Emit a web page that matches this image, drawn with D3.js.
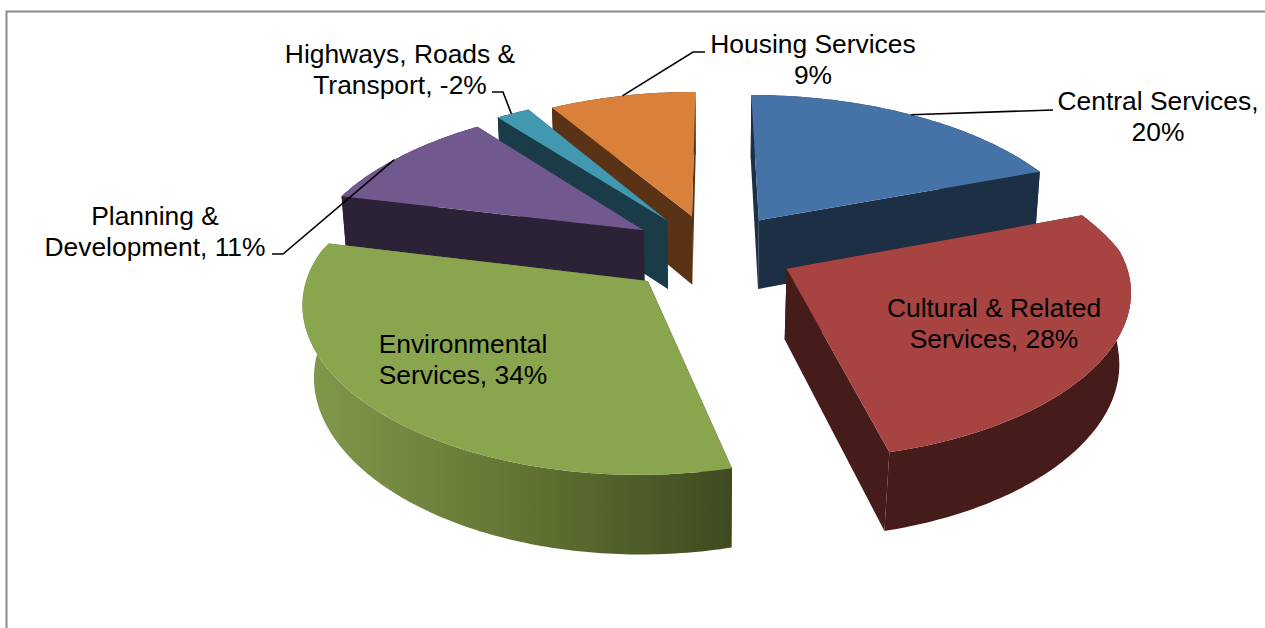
<!DOCTYPE html>
<html><head><meta charset="utf-8">
<script src="https://cdn.jsdelivr.net/npm/d3@7"></script>
<style>html,body{margin:0;padding:0;background:#fff}svg{display:block}</style>
</head><body><svg id="c" width="1265" height="628"></svg>
<script>
const categories = ["Central Services","Cultural & Related Services","Environmental Services","Planning & Development","Highways, Roads & Transport","Housing Services"];
const values = [20,28,34,11,-2,9];
const labelLines = [
  ["Central Services,","20%"],
  ["Cultural & Related","Services, 28%"],
  ["Environmental","Services, 34%"],
  ["Planning &","Development, 11%"],
  ["Highways, Roads &","Transport, -2%"],
  ["Housing Services","9%"]
];
const topColors = ["#4572a7","#a74442","#89a54e","#71588f","#4198af","#d9803b"];
const sideColors = ["#1c2f45","#451c1a","url(#envSide)","#2c2238","#1a3c49","#5a3316"];

// layout of the projected pie
const W=1265,H=628;
const P={x0:713,y0:251,B:965,D:2112,depth:70,pxBack:1.25,pxFront:0.75,pz:0.62,bottomBack:0.985,bottomFront:0.972};
const explodeBy=[84,82,90,85,84,82];
const radiusBy=[338,336,334,338,343,338];
// label anchor, text alignment, leader (fraction along the slice arc, then elbow points)
const labelLayout=[
 {x:1158,y:110,a:"middle",lead:{f:0.5,pts:[[1053,110],[1053,110]]}},
 {x:994,y:317,a:"middle"},
 {x:463,y:353,a:"middle"},
 {x:155,y:225,a:"middle",lead:{f:0.45,pts:[[283,254],[272,254]]}},
 {x:400,y:63,a:"middle",lead:{f:0.45,pts:[[503,92],[492,92]]}},
 {x:813,y:53,a:"middle",lead:{f:0.5,pts:[[693,52],[705,52]]}}
];

const svg=d3.select("#c");
const defs=svg.append("defs");
const g=defs.append("linearGradient").attr("id","envSide").attr("gradientUnits","userSpaceOnUse")
 .attr("x1",312).attr("x2",731).attr("y1",0).attr("y2",0);
g.append("stop").attr("offset",0).attr("stop-color","#80984a");
g.append("stop").attr("offset",0.5).attr("stop-color","#627433");
g.append("stop").attr("offset",1).attr("stop-color","#3f4a1f");

svg.append("path").attr("d",d3.line()([[6.5,628],[6.5,11.5],[1265,11.5]]))
 .attr("fill","none").attr("stroke","#8c8c8c").attr("stroke-width",2);

const pie=d3.pie().value(d=>Math.abs(d)).sort(null).startAngle(0).endAngle(2*Math.PI);
const arcs=pie(values);
const bottomScale=d3.scaleLinear().domain([-100,60]).range([P.bottomBack,P.bottomFront]).clamp(true);

function proj(X,Y,z){
  const s=P.D/(P.D-Y), sx=Math.pow(s,Y<0?P.pxBack:P.pxFront);
  const bx=z?bottomScale(Y):1;
  return [P.x0+X*sx*bx, P.y0+P.B*Y/(P.D-Y)+z*P.depth*Math.pow(s,P.pz)];
}
function center(a){const m=(a.startAngle+a.endAngle)/2,e=explodeBy[a.index];return [e*Math.sin(m),-e*Math.cos(m)];}
function rimPt(a,t,z){const c=center(a),R=radiusBy[a.index];return proj(c[0]+R*Math.sin(t),c[1]-R*Math.cos(t),z);}
function rim(a,z){const n=Math.max(6,Math.ceil((a.endAngle-a.startAngle)/0.015));
  return d3.range(n+1).map(i=>rimPt(a,a.startAngle+(a.endAngle-a.startAngle)*i/n,z));}
const line=d3.line();

const order=d3.range(arcs.length).sort((i,j)=>center(arcs[i])[1]-center(arcs[j])[1]);
const layer=svg.append("g");
order.forEach(i=>{
  const a=arcs[i],c=center(a);
  const t=rim(a,0),b=rim(a,1),c0=proj(c[0],c[1],0),c1=proj(c[0],c[1],1);
  const sg=layer.append("g").attr("class","slice").datum(categories[i]);
  const fill=sideColors[i];
  sg.append("path").attr("d",line([c0,t[0],b[0],c1])+"Z").attr("fill",fill);
  sg.append("path").attr("d",line([c0,t[t.length-1],b[b.length-1],c1])+"Z").attr("fill",fill);
  sg.append("path").attr("d",line(t.concat(b.slice().reverse()))+"Z").attr("fill",fill);
  sg.append("path").attr("d",line([c0].concat(t))+"Z").attr("fill",topColors[i]);
});

arcs.forEach((a,i)=>{
  const L=labelLayout[i];
  if(L.lead){
    const p=rimPt(a,a.startAngle+(a.endAngle-a.startAngle)*L.lead.f,0);
    svg.append("path").attr("d",line([p].concat(L.lead.pts))).attr("fill","none").attr("stroke","#000").attr("stroke-width",1.6);
  }
  const tx=svg.append("text").attr("text-anchor",L.a).attr("font-family","'Liberation Sans',Arial,sans-serif")
    .attr("font-size",26.4).attr("fill","#000");
  labelLines[i].forEach((s,k)=>tx.append("tspan").attr("x",L.x).attr("y",L.y+k*31).text(s));
});
</script></body></html>
